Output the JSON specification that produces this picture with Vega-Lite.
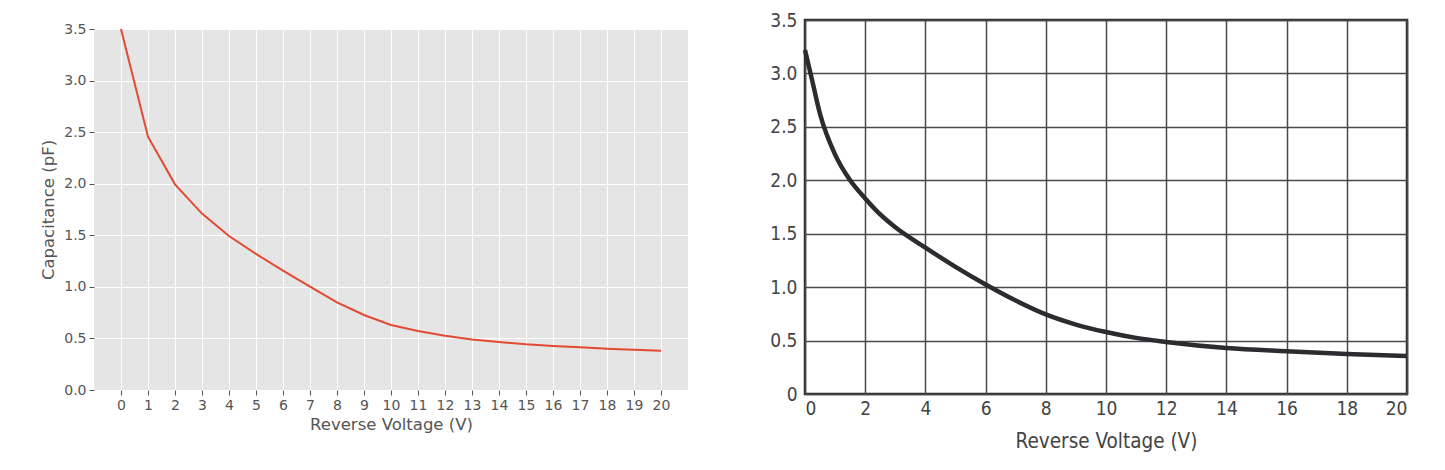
{
  "$schema": "https://vega.github.io/schema/vega-lite/v6.json",
  "padding": {"left": 40, "top": 9, "right": 0, "bottom": 0},
  "background": "white",
  "spacing": 80,
  "datasets": {
    "left": [
      {"v": 0, "c": 3.5}, {"v": 1, "c": 2.456}, {"v": 2, "c": 1.994}, {"v": 3, "c": 1.71},
      {"v": 4, "c": 1.493}, {"v": 5, "c": 1.319}, {"v": 6, "c": 1.157}, {"v": 7, "c": 1.002},
      {"v": 8, "c": 0.85}, {"v": 9, "c": 0.727}, {"v": 10, "c": 0.63}, {"v": 11, "c": 0.572},
      {"v": 12, "c": 0.527}, {"v": 13, "c": 0.49}, {"v": 14, "c": 0.465}, {"v": 15, "c": 0.443},
      {"v": 16, "c": 0.427}, {"v": 17, "c": 0.414}, {"v": 18, "c": 0.4}, {"v": 19, "c": 0.391},
      {"v": 20, "c": 0.381}
    ],
    "right": [
      {"v": 0, "c": 3.22}, {"v": 0.25, "c": 2.92}, {"v": 0.5, "c": 2.62}, {"v": 1, "c": 2.24},
      {"v": 1.5, "c": 2.0}, {"v": 2, "c": 1.83}, {"v": 2.5, "c": 1.68}, {"v": 3, "c": 1.56}, {"v": 4, "c": 1.37},
      {"v": 5, "c": 1.19}, {"v": 6, "c": 1.025}, {"v": 7, "c": 0.875}, {"v": 8, "c": 0.745},
      {"v": 9, "c": 0.65}, {"v": 10, "c": 0.58}, {"v": 11, "c": 0.525}, {"v": 12, "c": 0.487},
      {"v": 14, "c": 0.43}, {"v": 16, "c": 0.4}, {"v": 18, "c": 0.375}, {"v": 20, "c": 0.356}
    ],
    "none": []
  },
  "hconcat": [
    {
      "spacing": 1,
      "vconcat": [
        {
          "width": 594,
          "height": 1,
          "data": {"name": "none"},
          "view": {"stroke": null, "fill": null},
          "mark": {"type": "point", "opacity": 0},
          "encoding": {}
        },
        {
          "width": 594,
          "height": 361,
          "data": {"name": "left"},
          "view": {"fill": "#E5E5E5", "stroke": null},
          "mark": {"type": "line", "color": "#E24A33", "strokeWidth": 2},
          "encoding": {
            "x": {
              "field": "v", "type": "quantitative",
              "scale": {"domain": [-1, 21], "nice": false, "zero": false},
              "axis": {
                "title": "Reverse Voltage (V)", "values": [0,1,2,3,4,5,6,7,8,9,10,11,12,13,14,15,16,17,18,19,20],
                "domain": false, "grid": true, "gridColor": "white", "gridWidth": 1,
                "ticks": true, "tickColor": "#555555", "tickSize": 5, "tickWidth": 1,
                "labelFont": "DejaVu Sans", "labelFontSize": 14, "labelColor": "#555555", "labelPadding": 3,
                "titleFont": "DejaVu Sans", "titleFontSize": 16.5, "titleFontWeight": "normal", "titleColor": "#555555", "titlePadding": 4
              }
            },
            "y": {
              "field": "c", "type": "quantitative",
              "scale": {"domain": [0, 3.5], "nice": false},
              "axis": {
                "title": "Capacitance (pF)", "values": [0, 0.5, 1, 1.5, 2, 2.5, 3, 3.5], "format": ".1f",
                "domain": false, "grid": true, "gridColor": "white", "gridWidth": 1,
                "ticks": true, "tickColor": "#555555", "tickSize": 5, "tickWidth": 1,
                "labelFont": "DejaVu Sans", "labelFontSize": 14, "labelColor": "#555555", "labelPadding": 3,
                "titleFont": "DejaVu Sans", "titleFontSize": 16.5, "titleFontWeight": "normal", "titleColor": "#555555", "titlePadding": 7
              }
            }
          }
        }
      ]
    },
    {
      "width": 602,
      "height": 374,
      "data": {"name": "right"},
      "view": {"fill": "white", "stroke": "#2a2a2a", "strokeWidth": 2.5},
      "mark": {"type": "line", "color": "#2b2b30", "strokeWidth": 4.5, "interpolate": "monotone"},
      "encoding": {
        "x": {
          "field": "v", "type": "quantitative",
          "scale": {"domain": [0, 20], "nice": false},
          "axis": {
            "title": "Reverse Voltage (V)", "values": [0,2,4,6,8,10,12,14,16,18,20],
            "domain": false, "grid": true, "gridColor": "#4a4a4a", "gridWidth": 1.5, "gridOpacity": 1,
            "ticks": false, "labelPadding": 5,
            "labelFont": "Liberation Sans Narrow, DejaVu Sans Condensed, Liberation Sans", "labelFontSize": 19, "labelColor": "#444444",
            "titleFont": "Liberation Sans Narrow, DejaVu Sans Condensed, Liberation Sans", "titleFontSize": 20.5, "titleFontWeight": "normal", "titleColor": "#444444", "titlePadding": 13
          }
        },
        "y": {
          "field": "c", "type": "quantitative",
          "scale": {"domain": [0, 3.5], "nice": false},
          "axis": {
            "title": null, "values": [0, 0.5, 1, 1.5, 2, 2.5, 3, 3.5],
            "labelExpr": "datum.value === 0 ? '0' : format(datum.value, '.1f')",
            "domain": false, "grid": true, "gridColor": "#4a4a4a", "gridWidth": 1.5, "gridOpacity": 1,
            "ticks": false, "labelPadding": 8,
            "labelFont": "Liberation Sans Narrow, DejaVu Sans Condensed, Liberation Sans", "labelFontSize": 19, "labelColor": "#444444"
          }
        }
      }
    }
  ]
}
